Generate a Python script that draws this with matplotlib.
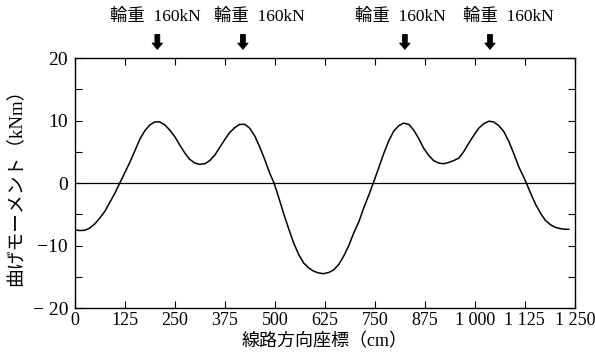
import matplotlib
matplotlib.use("Agg")
import matplotlib.pyplot as plt

plt.rcParams['font.family'] = ['Liberation Serif', 'Noto Sans CJK JP']

position_cm = [0, 12, 25, 37, 50, 62, 75, 87, 100, 112,
               125, 137, 150, 162, 175, 187, 200, 212, 225,
               237, 250, 262, 275, 287, 300, 312, 325,
               337, 350, 362, 375, 387, 400, 412, 425,
               437, 450, 462, 475, 487, 498,
               510, 522, 535, 547, 560, 572, 585, 597, 610, 622,
               635, 647, 660, 672, 685, 697, 710, 722, 735, 746,
               760, 772, 785, 797, 810, 822, 835,
               847, 860, 872, 885, 897, 910, 922, 935,
               947, 960, 972, 985, 997, 1010, 1022, 1035, 1047,
               1060, 1072, 1085, 1097, 1110, 1122, 1129,
               1140, 1152, 1165, 1177, 1190, 1202, 1215, 1227, 1235]
moment_kNm = [-7.5, -7.6, -7.55, -7.2, -6.5, -5.6, -4.5, -3.1, -1.6, 0.0,
              1.7, 3.3, 5.2, 7.0, 8.4, 9.3, 9.8, 9.8, 9.3,
              8.5, 7.4, 6.1, 4.8, 3.8, 3.2, 3.0, 3.1,
              3.6, 4.5, 5.7, 7.0, 8.1, 8.9, 9.4, 9.4,
              8.8, 7.5, 5.8, 3.7, 1.6, 0.0,
              -2.4, -4.9, -7.4, -9.6, -11.5, -12.8, -13.6, -14.1, -14.4, -14.5,
              -14.3, -13.9, -13.0, -11.7, -10.0, -8.0, -6.2, -4.0, -1.9, 0.0,
              2.5, 4.7, 6.8, 8.3, 9.2, 9.6, 9.4,
              8.5, 7.1, 5.6, 4.4, 3.6, 3.2, 3.1, 3.3,
              3.6, 4.0, 5.0, 6.4, 7.6, 8.8, 9.5, 9.9, 9.8,
              9.2, 8.3, 6.7, 4.8, 2.6, 1.0, 0.0,
              -1.7, -3.4, -4.9, -6.0, -6.7, -7.1, -7.3, -7.4, -7.4]

load_positions_cm = [206, 420, 825, 1038]
load_label_centers_cm = [200, 460, 815, 1085]
load_labels = ['輪重  160kN'] * 4

x_ticks = [0, 125, 250, 375, 500, 625, 750, 875, 1000, 1125, 1250]
x_tick_labels = ['0', '125', '250', '375', '500', '625', '750', '875', '1 000', '1 125', '1 250']
y_major = [-20, -10, 0, 10, 20]
y_major_labels = ['− 20', '−10', '0', '10', '20']
y_minor = [-15, -5, 5, 15]

fig = plt.figure(figsize=(5.95, 3.59), dpi=100)
ax = fig.add_axes([0.126, 0.142, 0.840, 0.696])

ax.plot(position_cm, moment_kNm, color='black', lw=1.1)
ax.axhline(0, color='black', lw=0.9)

ax.set_xlim(0, 1250)
ax.set_ylim(-20, 20)
ax.set_xticks(x_ticks)
ax.set_xticklabels(x_tick_labels)
ax.set_yticks(y_major)
ax.set_yticklabels(y_major_labels)
ax.set_yticks(y_minor, minor=True)
ax.tick_params(axis='both', which='both', direction='in', top=True, right=True,
               length=5, width=0.8)
ax.tick_params(axis='x', labelsize=13, pad=3)
ax.tick_params(axis='y', labelsize=14, pad=5)
for s in ax.spines.values():
    s.set_linewidth(1.0)

ax.set_xlabel('線路方向座標（cm）', fontsize=13, labelpad=3)
ax.set_ylabel('曲げモーメント（kNm）', fontsize=13.5, labelpad=6)

trans = ax.get_xaxis_transform()
for xp in load_positions_cm:
    ax.annotate('', xy=(xp, 1.024), xycoords=trans, xytext=(xp, 1.106), textcoords=trans,
                arrowprops=dict(arrowstyle='simple,head_length=0.45,head_width=0.75,tail_width=0.35',
                                fc='black', ec='black', lw=0.6),
                annotation_clip=False)
for xc, lab in zip(load_label_centers_cm, load_labels):
    ax.text(xc, 1.165, lab, transform=trans, ha='center', va='center', fontsize=12.5,
            clip_on=False)

fig.savefig('out.png', dpi=100)
